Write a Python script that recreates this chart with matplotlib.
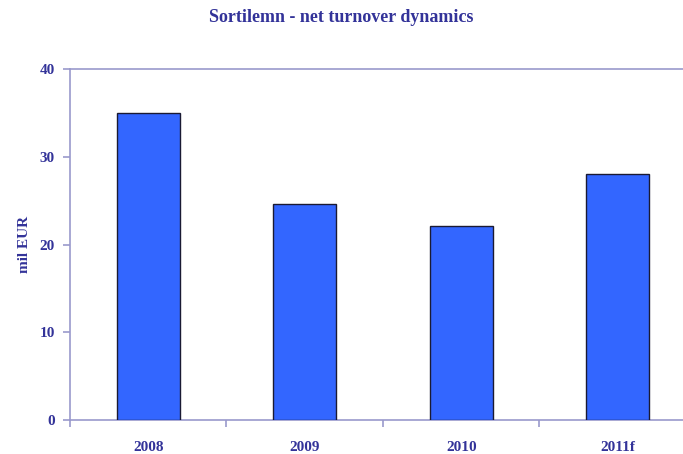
import matplotlib.pyplot as plt
import numpy as np

years = ['2008', '2009', '2010', '2011f']
turnover = [35.0, 24.6, 22.1, 28.0]

navy = '#333399'
axis_col = '#9999CC'

plt.rcParams['font.family'] = ['Liberation Serif', 'DejaVu Serif']

fig = plt.figure(figsize=(6.83, 4.54), dpi=100)
ax = fig.add_axes([0.1025, 0.0749, 0.9165, 0.7731])

x = np.arange(len(years))
ax.bar(x, turnover, width=0.4, color='#3366FF', edgecolor='#1a1a33', linewidth=1.0, zorder=3)

ax.set_xlim(-0.5, len(years) - 0.5)
ax.set_ylim(0, 40)
ax.set_yticks([0, 10, 20, 30, 40])
ax.set_xticks(x)
ax.set_xticklabels(years)
ax.set_xticks(np.arange(-0.5, len(years)), minor=True)

for s in ax.spines.values():
    s.set_color(axis_col)
    s.set_linewidth(1.2)

ax.tick_params(axis='x', which='major', length=0, pad=15, labelsize=11, labelcolor=navy)
ax.tick_params(axis='x', which='minor', length=5, color=axis_col, width=1.2)
ax.tick_params(axis='y', length=5, color=axis_col, width=1.2, labelsize=11, labelcolor=navy, pad=6)
for lab in ax.get_xticklabels() + ax.get_yticklabels():
    lab.set_fontweight('bold')

ax.set_ylabel('mil EUR', color=navy, fontsize=11, fontweight='bold', labelpad=6)
fig.text(0.5, 0.962, 'Sortilemn - net turnover dynamics', ha='center', va='center',
         color=navy, fontsize=13, fontweight='bold')

fig.savefig('out.png', dpi=100)
